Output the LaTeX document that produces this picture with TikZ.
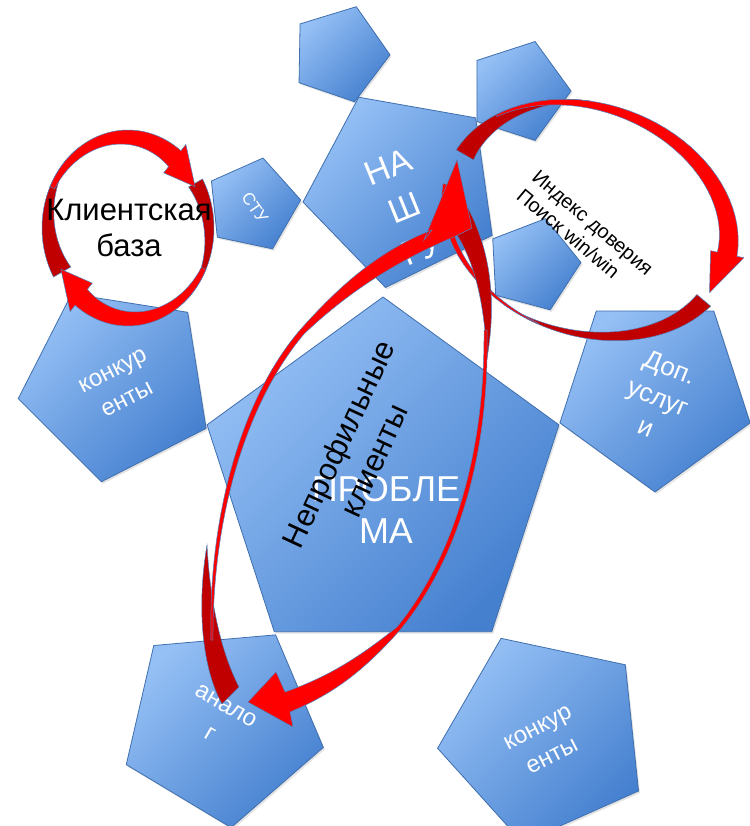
\documentclass[tikz,border=0pt]{standalone}
\usepackage{fontspec}
\setmainfont{Liberation Sans}
\usetikzlibrary{shapes.geometric,shadows}
\definecolor{pentL}{HTML}{95C0F5}
\definecolor{pentD}{HTML}{4580CF}
\definecolor{pentB}{HTML}{3F6FAE}
\definecolor{brRed}{HTML}{FF0000}
\definecolor{dkRed}{HTML}{C00000}
\definecolor{arrB}{HTML}{4F81BD}
% band along an ellipse: a, b, t1, t2, w1, w2, style
\newcommand{\myband}[7]{%
  \path[#7] plot[domain=#3:#4, samples=36, variable=\t] ({#1*cos(\t)},{#2*sin(\t)})
    -- plot[domain=#4:#3, samples=36, variable=\t]
       ({(#1-(#5+(#6-#5)*(\t-#3)/(#4-#3)))*cos(\t)},{(#2-(#5+(#6-#5)*(\t-#3)/(#4-#3)))*sin(\t)})
    -- cycle;}
% curved arrow: a, b, t1, t2, w1, w2, wing, tip angle, style
\newcommand{\myarrow}[9]{%
  \path[#9] plot[domain=#3:#4, samples=36, variable=\t] ({#1*cos(\t)},{#2*sin(\t)})
    -- ({(#1+#7)*cos(#4)},{(#2+#7)*sin(#4)})
    -- ({(#1-0.5*#6)*cos(#8)},{(#2-0.5*#6)*sin(#8)})
    -- ({(#1-#6-#7)*cos(#4)},{(#2-#6-#7)*sin(#4)})
    -- plot[domain=#4:#3, samples=36, variable=\t]
       ({(#1-(#5+(#6-#5)*(\t-#3)/(#4-#3)))*cos(\t)},{(#2-(#5+(#6-#5)*(\t-#3)/(#4-#3)))*sin(\t)})
    -- cycle;}
\begin{document}
\begin{tikzpicture}[x=1pt,y=-1pt,
  pent/.style={regular polygon, regular polygon sides=5, minimum size=#1,
    inner sep=0pt, outer sep=0pt, draw=pentB, line width=0.8pt,
    top color=pentL, bottom color=pentD, shading angle=45,
    drop shadow={opacity=0.22, shadow xshift=1.5pt, shadow yshift=-2pt}},
  wtxt/.style={text=white, align=center, inner sep=0pt},
  btxt/.style={text=black, align=center, inner sep=0pt},
  bright/.style={fill=brRed, draw=arrB, line width=0.5pt},
  dark/.style={fill=dkRed, draw=arrB, line width=0.5pt}]
\useasboundingbox (0,0) rectangle (749,826);
\fill[white] (0,0) rectangle (749,826);

% pentagons
\node[pent=370pt] (p1) at (383,482) {};
\node[pent=100pt, rotate=-19] (p3) at (340,54) {};
\node[pent=104pt, rotate=-18] (p4) at (519,91) {};
\node[pent=202pt, rotate=26] (p2) at (403,188) {};
\node[pent=96pt, rotate=-15] (p5) at (533,265) {};
\node[pent=96pt, rotate=-12] (p6) at (253,205) {};
\node[pent=200pt, rotate=27] (p7) at (117,383) {};
\node[pent=200pt, rotate=180] (p8) at (655,392) {};
\node[pent=208pt, rotate=185] (p9) at (222,724) {};
\node[pent=216pt, rotate=24] (p10) at (545,737) {};

% white texts
\node[wtxt, font=\fontsize{36pt}{42pt}\selectfont] (t1) at (386,510) {ПРОБЛЕ\\МА};
\node[wtxt, rotate=22, font=\fontsize{34pt}{44pt}\selectfont] (t2) at (405,208) {НА\\Ш\\ГУ};
\node[wtxt, rotate=-55, font=\fontsize{17pt}{20pt}\selectfont] (t6) at (255,208) {СТУ};
\node[wtxt, rotate=27, font=\fontsize{24pt}{32pt}\selectfont] (t7) at (120,385) {конкур\\енты};
\node[wtxt, rotate=-22, font=\fontsize{26pt}{32pt}\selectfont] (t8) at (658,397) {Доп.\\услуг\\и};
\node[wtxt, rotate=-30, font=\fontsize{24pt}{32pt}\selectfont] (t9) at (218,720) {анало\\г};
\node[wtxt, rotate=27, font=\fontsize{24pt}{32pt}\selectfont] (t10) at (545,742) {конкур\\енты};

% circle arrows round the client base
\begin{scope}[shift={(128,228)}]
  \myband{86}{98}{150}{235}{20}{0}{dark}
  \myband{86}{98}{330}{410}{16}{0}{dark}
  \myarrow{86}{98}{205}{308}{5}{20}{8}{332}{bright}
  \myarrow{86}{98}{25}{128}{5}{20}{8}{152}{bright}
\end{scope}

% ellipse arrows round the trust index
\begin{scope}[shift={(590,220)}, rotate=-20]
  \myband{152}{116}{190}{255}{20}{0}{dark}
  \myband{152}{116}{20}{110}{18}{0}{dark}
  \myband{152}{116}{95}{172}{1}{8}{bright}
  \myarrow{152}{116}{215}{352}{2}{20}{7}{375}{bright}
\end{scope}

% big tilted ellipse arrows
\path[dark] (207,545) .. controls (196,610) and (203,670) .. (222,704)
  -- (239,687) .. controls (220,650) and (210,600) .. (207,545) -- cycle;
\path[dark] (449,224) -- (468,208) .. controls (490,250) and (497,300) .. (487,358)
  .. controls (484,300) and (474,255) .. (449,224) -- cycle;
\path[bright] (211,640) .. controls (208,520) and (240,400) .. (300,330)
  .. controls (340,285) and (380,250) .. (432,230)
  -- (424,240) -- (457,160) -- (472,228) -- (456,236)
  .. controls (394,262) and (346,294) .. (304,334)
  .. controls (245,404) and (212,520) .. (213,640) -- cycle;
\path[bright] (487,330) .. controls (490,470) and (450,570) .. (400,630)
  .. controls (360,675) and (330,695) .. (290,712)
  -- (293,727) -- (248,702) -- (276,672) -- (285,692)
  .. controls (325,678) and (356,660) .. (397,627)
  .. controls (446,567) and (485,468) .. (484,330) -- cycle;

% black texts
\node[btxt, font=\fontsize{31pt}{36pt}\selectfont] (t11) at (129,228) {Клиентская\\база};
\node[btxt, align=left, rotate=-40, font=\fontsize{20pt}{24pt}\selectfont] (t12) at (585,232) {Индекс доверия\\Поиск win/win};
\node[btxt, rotate=65, font=\fontsize{31pt}{39pt}\selectfont] (t13) at (356,452) {Непрофильные\\клиенты};
\end{tikzpicture}
\end{document}
